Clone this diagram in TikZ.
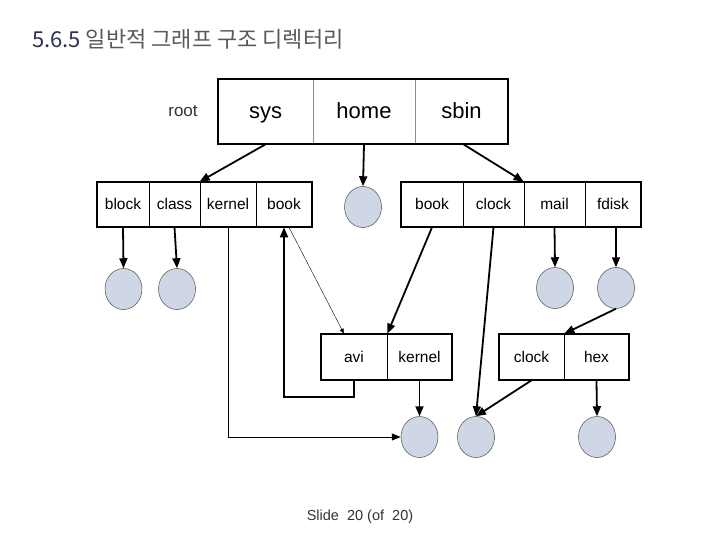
\documentclass[tikz,border=0pt]{standalone}
\usepackage{fontspec}
\setmainfont{Liberation Sans}
\newfontfamily\krfont{Noto Sans CJK KR}
\usetikzlibrary{positioning,calc,arrows.meta,shapes.geometric}
\definecolor{filecol}{RGB}{207,215,230}
\definecolor{numcol}{RGB}{45,47,82}
\tikzset{
  cell/.style    = {draw, line width=0.7pt, minimum height=45pt, inner sep=0pt,
                    text height=11pt, text depth=1pt,
                    font=\fontsize{15.5}{17}\selectfont},
  rcell/.style   = {draw=black!45, line width=0.7pt, minimum height=65pt,
                    inner sep=0pt, text height=16pt, text depth=1pt,
                    font=\fontsize{22}{24}\selectfont},
  frame/.style   = {line width=1.8pt},
  file/.style    = {ellipse, draw=black!70, line width=0.5pt, fill=filecol,
                    minimum width=37pt, minimum height=41pt, inner sep=0pt},
  link/.style    = {line width=1.8pt, -{Triangle[length=10pt,width=8pt]}},
  tlink/.style   = {line width=0.9pt, -{Triangle[length=9pt,width=7pt]}},
  hlink/.style   = {line width=0.4pt, -{Triangle[length=5pt,width=4pt]}},
  lbl/.style     = {font=\fontsize{17}{19}\selectfont, text=black!80, inner sep=0pt},
}
\begin{document}
\begin{tikzpicture}[x=1pt,y=-1pt]
  \fill[white] (0,0) rectangle (720,540);
  \useasboundingbox (0,0) rectangle (720,540);
  % title
  \node[anchor=base west, inner sep=0pt] (title) at (32,48)
    {\krfont\fontsize{22}{25}\selectfont\textcolor{numcol}{5.6.5}
     \textcolor{black!65}{일반적 그래프 구조 디렉터리}};
  % root directory
  \node[rcell, minimum width=95pt]  (sys)  at (265.5,111.5) {sys};
  \node[rcell, minimum width=102pt] (home) at (364,111.5)   {home};
  \node[rcell, minimum width=93pt]  (sbin) at (461.5,111.5) {sbin};
  \draw[frame] (sys.north west) rectangle (sbin.south east);
  \node[lbl] (root) at (183,111) {root};
  % second level
  \node[cell, minimum width=52pt] (block)  at (123,204.5)   {block};
  \node[cell, minimum width=51pt] (class)  at (174.5,204.5) {class};
  \node[cell, minimum width=56pt] (kernel) at (228,204.5)   {kernel};
  \node[cell, minimum width=56pt] (book)   at (284,204.5)   {book};
  \draw[frame] (block.north west) rectangle (book.south east);
  \node[cell, minimum width=62pt] (bookb)  at (432,204.5)   {book};
  \node[cell, minimum width=61pt] (clock)  at (493.5,204.5) {clock};
  \node[cell, minimum width=61pt] (mail)   at (554.5,204.5) {mail};
  \node[cell, minimum width=56pt] (fdisk)  at (613,204.5)   {fdisk};
  \draw[frame] (bookb.north west) rectangle (fdisk.south east);
  % third level
  \node[cell, minimum width=66pt, minimum height=46pt] (avi)     at (354,357)   {avi};
  \node[cell, minimum width=65pt, minimum height=46pt] (kernelb) at (419.5,357) {kernel};
  \draw[frame] (avi.north west) rectangle (kernelb.south east);
  \node[cell, minimum width=65pt, minimum height=46pt] (clockb)  at (531.5,357) {clock};
  \node[cell, minimum width=65pt, minimum height=46pt] (hex)     at (596.5,357) {hex};
  \draw[frame] (clockb.north west) rectangle (hex.south east);
  % files
  \node[file] (f0) at (363,207) {};
  \node[file] (f1) at (123.5,289) {};
  \node[file] (f2) at (177,289) {};
  \node[file] (f3) at (555,288) {};
  \node[file] (f4) at (616,288) {};
  \node[file] (f5) at (419.5,437) {};
  \node[file] (f6) at (476,437) {};
  \node[file] (f7) at (597,437) {};
  % links
  \draw[link] (sys.south) -- (kernel.north west);
  \draw[link] (home.south) -- (f0.north);
  \draw[link] ([xshift=2pt]sbin.south) -- (mail.north west);
  \draw[link] (block.south) -- (f1.north);
  \draw[link] (class.south) -- (f2.north);
  \draw[link] (mail.south) -- (f3.north);
  \draw[link] (f4 |- fdisk.south) -- (f4.north);
  \draw[tlink] (kernel.south) |- (f5.west);
  \draw[hlink] ([xshift=5pt]book.south) -- ([xshift=-10pt]avi.north);
  \draw[link] (bookb.south) -- (avi.north east);
  \draw[link] (avi.south) -- ++(0,17) -| (book.south);
  \draw[link] (kernelb.south) -- (f5.north);
  \draw[link] (clock.south) -- (f6.north);
  \draw[link] (f4.south) -- (clockb.north east);
  \draw[link] (clockb.south) -- (f6.north);
  \draw[link] (hex.south) -- (f7.north);
  % footer
  \node[font=\fontsize{14.5}{16}\selectfont, text=black!80] (foot) at (360,517)
    {Slide~ 20 (of~ 20)};
\end{tikzpicture}
\end{document}
